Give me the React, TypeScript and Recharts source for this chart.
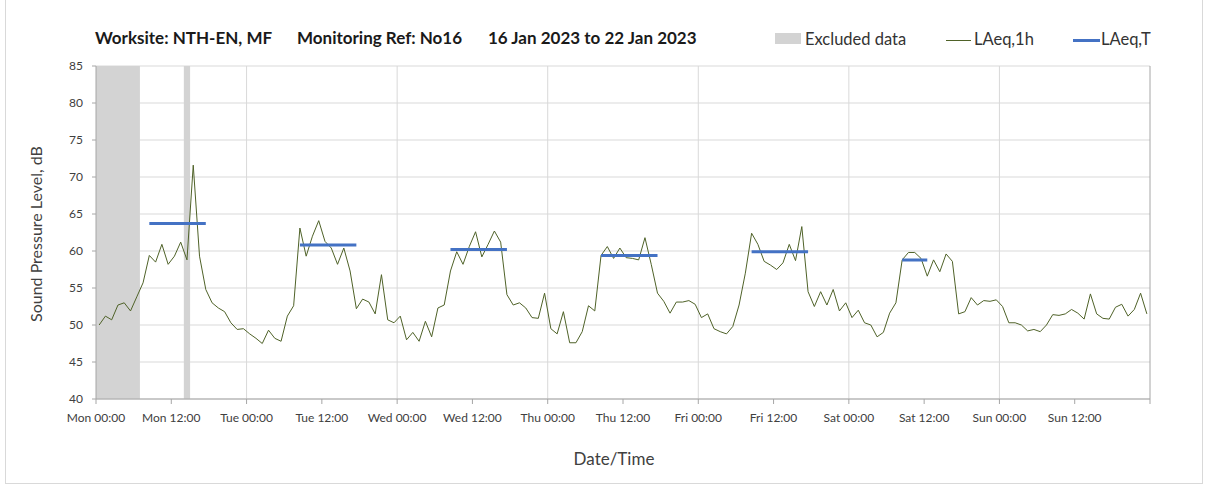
import { ComposedChart, Line, XAxis, YAxis, CartesianGrid, ReferenceArea, ReferenceLine } from 'recharts';

// hourly LAeq,1h values, Mon 00:00 .. Sun 23:00 (dB)
const laeq1h = [
  50.0, 51.2, 50.7, 52.7, 53.0, 51.9, 53.8, 55.7, 59.4, 58.5, 60.9, 58.2, 59.3, 61.2, 58.8, 71.6,
  59.3, 54.8, 53.0, 52.3, 51.8, 50.3, 49.4, 49.5, 48.8, 48.2, 47.5, 49.3, 48.2, 47.8, 51.2, 52.6,
  63.1, 59.3, 62.0, 64.1, 61.3, 60.4, 58.2, 60.4, 57.3, 52.2, 53.5, 53.1, 51.5, 56.8, 50.7, 50.3,
  51.2, 48.0, 49.0, 47.8, 50.5, 48.4, 52.3, 52.7, 57.3, 59.9, 58.2, 60.6, 62.6, 59.2, 60.9, 62.7,
  61.2, 54.1, 52.7, 53.0, 52.3, 51.0, 50.9, 54.3, 49.5, 48.8, 51.8, 47.6, 47.6, 49.1, 52.6, 51.9,
  59.4, 60.6, 59.0, 60.4, 59.1, 59.0, 58.8, 61.8, 58.2, 54.3, 53.2, 51.6, 53.1, 53.1, 53.3, 52.8,
  51.0, 51.5, 49.5, 49.1, 48.8, 49.8, 52.7, 57.0, 62.4, 60.9, 58.6, 58.1, 57.5, 58.4, 60.9, 58.7,
  63.3, 54.5, 52.5, 54.5, 52.7, 54.8, 51.9, 53.0, 51.0, 52.0, 50.3, 50.0, 48.4, 49.0, 51.6, 53.0,
  58.8, 59.8, 59.8, 59.0, 56.6, 58.8, 57.2, 59.6, 58.6, 51.5, 51.8, 53.7, 52.7, 53.3, 53.2, 53.4,
  52.5, 50.3, 50.3, 50.0, 49.2, 49.4, 49.1, 50.0, 51.4, 51.3, 51.5, 52.1, 51.6, 50.8, 54.2, 51.5,
  50.9, 50.8, 52.4, 52.8, 51.2, 52.1, 54.3, 51.5,
];

// LAeq,T periods (hour index from / to, level)
const periodFrom = [8, 32, 56, 80, 104, 128];
const periodTo = [17, 41, 65, 89, 113, 132];
const periodLevel = [63.7, 60.8, 60.2, 59.4, 59.9, 58.8];

// excluded data, hours from Mon 00:00
const excludedFrom = [0, 14];
const excludedTo = [7, 15];

const xTicks = [0, 12, 24, 36, 48, 60, 72, 84, 96, 108, 120, 132, 144, 156, 168];
const xTickLabels = [
  'Mon 00:00', 'Mon 12:00', 'Tue 00:00', 'Tue 12:00', 'Wed 00:00', 'Wed 12:00', 'Thu 00:00',
  'Thu 12:00', 'Fri 00:00', 'Fri 12:00', 'Sat 00:00', 'Sat 12:00', 'Sun 00:00', 'Sun 12:00', '',
];
const dayLines = [24, 48, 72, 96, 120, 144];
const yTicks = [40, 45, 50, 55, 60, 65, 70, 75, 80, 85];

const data = laeq1h.map((v, i) => {
  const p = periodFrom.findIndex((f, k) => i >= f && i <= periodTo[k]);
  return { t: i + 0.5, l1h: v, lt: p >= 0 ? periodLevel[p] : null };
});

const FONT = 'Lato, "Open Sans", sans-serif';
const GREEN = '#4f6228';
const BLUE = '#4472c4';
const GREY = '#d3d3d3';

export default function App() {
  return (
    <div style={{ position: 'absolute', left: 0, top: 0, width: 1208, height: 492, background: '#fff', fontFamily: FONT, overflow: 'hidden' }}>
      <div style={{ position: 'absolute', left: 5, top: -2, width: 1196, height: 484, border: '1px solid #d9d9d9' }} />

      {/* title */}
      <div style={{ position: 'absolute', top: 27, left: 0, fontSize: 17, fontWeight: 700, color: '#1a1a1a', whiteSpace: 'nowrap' }}>
        <span style={{ position: 'absolute', left: 95 }}>Worksite: NTH-EN, MF</span>
        <span style={{ position: 'absolute', left: 297 }}>Monitoring Ref: No16</span>
        <span style={{ position: 'absolute', left: 488 }}>16 Jan 2023 to 22 Jan 2023</span>
      </div>

      {/* legend */}
      <div style={{ position: 'absolute', top: 32, left: 0, fontSize: 16.5, color: '#333', whiteSpace: 'nowrap' }}>
        <div style={{ position: 'absolute', left: 775, top: 1, width: 26, height: 11, background: GREY }} />
        <span style={{ position: 'absolute', left: 805, top: -3 }}>Excluded data</span>
        <div style={{ position: 'absolute', left: 946, top: 8, width: 25, height: 1, background: GREEN }} />
        <span style={{ position: 'absolute', left: 974, top: -3 }}>LAeq,1h</span>
        <div style={{ position: 'absolute', left: 1073, top: 7, width: 27, height: 3, background: BLUE }} />
        <span style={{ position: 'absolute', left: 1101, top: -3 }}>LAeq,T</span>
      </div>

      {/* axis titles */}
      <div style={{ position: 'absolute', left: 35, top: 234, transform: 'translate(-50%, -50%) rotate(-90deg)', fontSize: 16, color: '#404040', whiteSpace: 'nowrap' }}>
        Sound Pressure Level, dB
      </div>
      <div style={{ position: 'absolute', left: 614, top: 458, transform: 'translate(-50%, -50%)', fontSize: 17, color: '#404040', whiteSpace: 'nowrap' }}>
        Date/Time
      </div>

      <div style={{ position: 'absolute', left: 0, top: 0 }}>
        <ComposedChart width={1208} height={492} data={data} margin={{ top: 66, right: 58, left: 0, bottom: 0 }}>
          <CartesianGrid vertical={false} stroke="#d9d9d9" />
          {excludedFrom.map((f, k) => (
            <ReferenceArea key={k} x1={f} x2={excludedTo[k]} y1={40} y2={85} fill={GREY} fillOpacity={1} stroke="none" />
          ))}
          {dayLines.map((h) => (
            <ReferenceLine key={h} x={h} stroke="#d9d9d9" />
          ))}
          <ReferenceLine x={168} stroke="#a6a6a6" />
          <XAxis
            dataKey="t"
            type="number"
            domain={[0, 168]}
            ticks={xTicks}
            interval={0}
            tickFormatter={(v: number) => xTickLabels[xTicks.indexOf(v)]}
            height={93}
            tickSize={5}
            tickMargin={9}
            stroke="#a6a6a6"
            tick={{ fill: '#404040', fontSize: 12, fontFamily: FONT }}
          />
          <YAxis
            type="number"
            domain={[40, 85]}
            ticks={yTicks}
            interval={0}
            width={96}
            tickSize={4}
            tickMargin={9}
            stroke="#a6a6a6"
            tick={{ fill: '#404040', fontSize: 12, fontFamily: FONT }}
          />
          <Line dataKey="l1h" stroke={GREEN} strokeWidth={1} dot={false} isAnimationActive={false} />
          <Line dataKey="lt" stroke={BLUE} strokeWidth={3} dot={false} isAnimationActive={false} connectNulls={false} />
        </ComposedChart>
      </div>
    </div>
  );
}
